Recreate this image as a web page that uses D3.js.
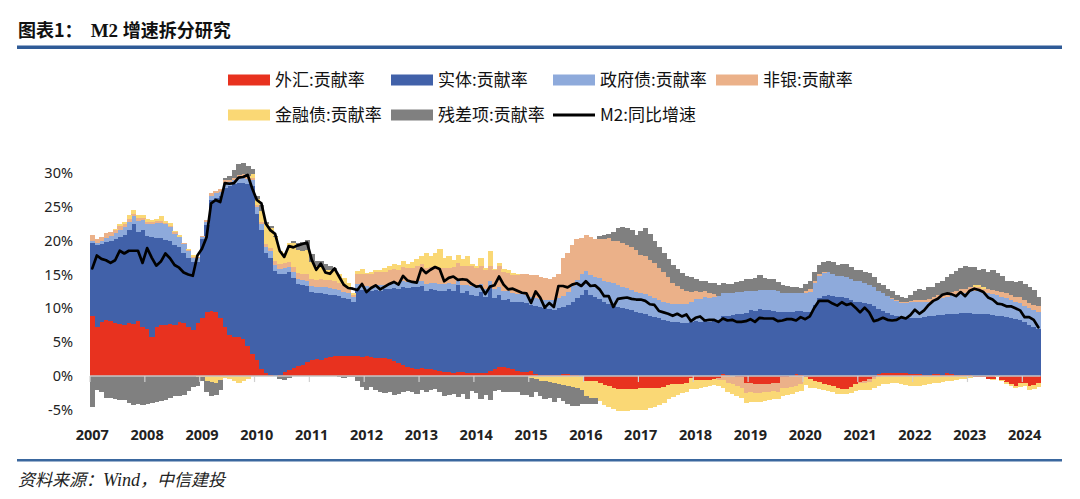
<!DOCTYPE html>
<html><head><meta charset="utf-8">
<script src="https://cdn.jsdelivr.net/npm/d3@7"></script>
<style>body{margin:0;background:#fff}svg{display:block}</style>
</head><body>
<svg id="chart" width="1080" height="499"></svg>
<script>
// ---------- data (percent) ----------
const startYear = 2007;
const yearLabels = ["2007","2008","2009","2010","2011","2012","2013","2014","2015","2016","2017","2018","2019","2020","2021","2022","2023","2024"];
const yTickValues = [-5, 0, 5, 10, 15, 20, 25, 30];
const seriesNames = ["外汇:贡献率","实体:贡献率","政府债:贡献率","非银:贡献率","金融债:贡献率","残差项:贡献率"];
const lineName = "M2:同比增速";

const fxContribution = [
 8.8,7.3,8.0,8.3,8.2,7.8,7.7,7.6,7.8,7.7,8.1,7.3,
 7.0,5.8,7.3,7.5,7.6,7.7,7.6,8.0,7.8,7.3,6.8,7.8,
 8.6,9.4,9.6,9.5,8.6,7.3,6.0,5.8,5.7,5.5,4.4,3.2,
 2.4,1.0,0.4,0.1,0.0,0.2,0.6,0.9,1.2,1.5,1.7,2.1,
 2.4,2.5,2.4,2.7,2.8,2.9,3.0,3.0,2.9,3.0,2.9,2.8,
 2.9,2.8,2.7,2.6,2.6,2.5,2.2,1.9,1.6,1.4,1.2,1.1,
 1.2,1.1,1.0,0.9,0.7,0.6,0.6,0.5,0.6,0.6,0.5,0.5,
 0.5,0.4,0.5,0.8,1.1,1.3,1.3,1.2,1.0,0.7,0.6,0.6,
 0.8,0.3,0.2,0.1,0.1,0.1,0.2,0.3,0.3,0.2,0.1,0.0,
 -0.7,-0.8,-0.8,-1.0,-1.3,-1.4,-1.7,-1.9,-1.9,-1.9,-1.9,-1.9,
 -1.8,-1.8,-1.7,-1.7,-1.7,-1.6,-1.3,-1.2,-1.2,-1.2,-1.1,-0.3,
 -0.6,-0.6,-0.6,-0.6,-0.5,-0.3,0.3,0.1,0.0,-0.1,-0.2,-1.0,
 -1.0,-1.2,-1.2,-1.2,-1.2,-1.1,-1.0,-0.2,-0.1,0.0,0.3,0.1,
 -0.1,-0.5,-0.7,-0.9,-1.2,-1.3,-1.5,-1.8,-1.9,-1.9,-1.6,-1.2,
 -0.9,-0.7,-0.5,-0.2,0.3,0.4,0.5,0.5,0.4,0.4,0.4,0.3,
 0.3,0.3,0.2,0.2,0.3,0.3,0.2,0.4,0.3,0.2,0.1,0.1,
 0.1,-0.2,-0.2,-0.1,-0.5,-0.5,0.0,-0.6,-0.9,-1.2,-1.4,-1.1,
 -1.0,-1.4,-1.3,-1.0
];
const realEconomyContribution = [
 10.9,12.0,11.5,11.5,11.8,12.5,12.9,13.3,13.7,14.7,13.2,14.3,
 13.7,14.8,13.1,12.9,12.5,12.3,11.8,11.0,10.4,10.2,10.0,9.1,
 11.6,12.9,16.4,16.8,18.0,20.5,22.0,22.5,22.8,23.0,23.9,24.8,
 21.6,20.5,17.7,17.4,15.5,14.8,14.5,14.4,13.3,12.1,11.7,11.2,
 10.0,9.8,9.8,9.4,9.2,9.1,8.8,8.5,8.5,7.9,10.0,9.9,
 9.7,9.7,10.0,10.0,10.2,10.4,10.8,11.0,11.5,11.6,11.9,12.1,
 12.1,11.5,11.9,11.8,11.8,12.0,12.3,12.0,12.8,11.7,12.0,11.5,
 11.3,12.0,11.1,12.3,10.4,10.6,9.9,10.2,10.0,10.3,10.3,10.2,
 9.7,10.1,10.0,9.9,9.8,9.7,9.8,9.9,10.2,10.8,11.4,12.0,
 12.7,12.0,11.6,11.4,11.0,10.7,10.4,10.2,10.0,9.9,9.7,9.5,
 9.3,9.1,8.9,8.7,8.5,8.3,8.2,8.0,8.0,7.9,7.8,8.0,
 8.1,8.0,8.1,8.0,8.2,8.2,8.5,8.8,9.0,9.1,9.2,9.3,
 9.8,9.6,9.9,9.7,9.7,9.6,9.5,9.4,9.5,9.4,9.3,9.5,
 9.5,9.5,10.5,11.5,11.8,11.9,11.8,11.6,11.6,11.5,11.3,11.0,
 11.0,10.8,10.6,10.3,9.6,9.2,8.8,8.5,8.4,8.2,8.1,8.2,
 8.3,8.3,8.5,8.6,8.6,8.7,8.8,8.7,8.9,9.0,9.2,9.2,
 9.2,9.2,9.2,9.1,9.1,9.0,8.9,8.8,8.7,8.6,8.4,8.3,
 8.0,7.6,7.3,6.9
];
const govBondContribution = [
 0.3,0.4,0.5,0.6,0.7,0.8,1.0,1.1,1.3,1.3,1.6,1.5,
 1.8,1.9,2.2,2.2,2.3,2.0,1.6,1.5,1.3,1.0,0.7,0.6,
 0.4,0.5,0.6,0.7,0.6,0.7,0.6,0.6,0.7,0.8,0.8,0.9,
 1.0,1.0,1.0,0.9,0.9,0.8,0.8,0.8,0.8,0.8,0.8,0.8,
 0.9,0.9,1.0,1.0,1.0,0.9,0.9,0.9,0.8,0.8,0.7,0.7,
 0.7,0.7,0.8,0.8,0.7,0.7,0.8,0.8,0.9,0.9,0.8,0.8,
 0.8,1.0,0.9,1.1,1.1,1.0,0.9,1.1,0.7,1.2,1.0,1.3,
 1.3,1.2,1.2,0.9,1.4,1.3,1.4,1.2,1.2,1.1,1.2,1.2,
 1.2,1.1,1.2,1.2,1.3,1.4,1.5,1.6,1.9,2.3,2.7,3.0,
 2.8,2.9,3.0,3.1,3.1,3.2,3.3,3.3,3.2,3.1,3.0,2.9,
 3.0,3.0,2.9,2.8,2.7,2.6,2.6,2.6,2.7,2.8,2.9,3.0,
 3.3,3.4,3.5,3.5,3.5,3.6,3.5,3.4,3.3,3.3,3.2,3.2,
 2.8,2.9,2.8,3.0,3.0,3.1,3.0,2.9,2.8,2.8,2.7,2.7,
 2.8,2.9,3.2,3.3,3.4,3.4,3.3,3.2,3.2,3.1,3.0,3.0,
 3.0,3.0,2.9,2.8,2.7,2.6,2.5,2.4,2.3,2.2,2.3,2.4,
 2.4,2.4,2.3,2.2,2.3,2.4,2.5,2.6,2.7,2.8,2.9,3.0,
 3.2,3.3,3.4,3.3,3.2,3.1,3.0,2.9,2.8,2.6,2.5,2.5,
 2.4,2.4,2.4,2.6
];
const nonBankContribution = [
 0.9,0.6,0.6,0.7,0.6,0.5,0.6,0.5,0.4,0.3,0.4,0.3,
 0.3,0.3,0.3,0.3,0.2,0.2,0.2,0.1,0.1,0.1,0.1,0.1,
 0.1,0.2,0.4,0.3,0.4,0.4,0.4,0.4,0.5,0.5,0.4,0.4,
 0.3,0.3,0.4,0.5,0.6,0.7,0.8,0.8,0.8,0.8,0.8,0.9,
 1.0,1.0,1.1,1.1,1.2,1.2,1.1,1.0,0.9,0.3,1.5,1.6,
 1.7,1.8,1.8,1.9,1.9,2.0,2.0,2.0,2.1,2.1,2.1,2.2,
 2.4,2.3,2.3,2.5,2.4,2.3,2.2,2.5,2.6,2.7,2.8,2.9,
 2.8,2.6,2.8,2.2,2.7,3.0,2.8,2.6,2.7,2.8,2.9,3.0,
 3.2,3.4,3.2,3.3,3.1,3.5,3.5,5.6,5.8,6.0,6.0,5.4,
 5.4,5.6,5.7,5.8,6.2,6.5,6.3,6.4,6.5,6.4,6.4,6.2,
 5.6,5.6,5.4,5.2,4.8,4.4,3.8,3.2,2.6,2.2,1.8,1.4,
 1.2,1.0,0.9,0.7,0.4,-0.3,-0.6,-1.0,-1.2,-1.4,-1.5,-1.5,
 -1.4,-1.3,-1.3,-1.2,-1.2,-1.1,-1.3,-1.6,-1.7,-1.6,-1.4,-1.2,
 0.3,0.4,0.3,0.2,0.1,0.1,0.0,0.0,0.0,0.0,0.0,0.0,
 -0.1,-0.3,-0.4,-0.3,-0.1,0.0,0.0,0.1,0.1,0.1,0.1,0.2,
 0.3,0.3,0.3,0.4,0.4,0.5,0.5,0.5,0.5,0.5,0.6,0.6,
 0.6,0.6,0.5,0.5,0.5,0.6,0.6,0.7,0.7,0.8,0.8,0.9,
 0.9,0.8,0.8,0.8
];
const finBondContribution = [
 0.0,0.0,0.0,0.0,0.0,0.1,0.2,0.3,0.6,0.5,0.5,0.4,
 0.4,0.3,0.3,0.8,0.3,0.4,0.2,0.2,0.1,0.2,0.3,-0.2,
 -0.2,-0.8,-0.9,-1.0,-0.6,-0.3,-0.4,-0.8,-1.0,-0.8,-0.5,0.5,
 0.8,1.6,3.0,3.0,3.5,2.0,1.4,2.8,3.5,3.4,3.5,3.6,
 2.5,2.0,2.1,1.5,1.4,1.4,1.2,1.1,0.6,0.2,0.4,0.8,
 0.2,0.3,0.4,0.4,0.5,0.6,0.7,0.7,0.9,0.6,0.9,1.1,
 1.3,2.3,1.6,1.8,2.8,1.6,1.8,1.1,1.2,1.1,1.4,0.3,
 0.4,1.2,0.3,2.3,0.2,0.5,0.4,0.4,0.3,0.2,0.0,0.0,
 -0.3,-0.5,-0.7,-0.8,-0.9,-1.0,-1.2,-1.3,-1.5,-1.6,-1.8,-2.0,
 -2.2,-2.4,-2.5,-2.7,-3.0,-3.1,-3.2,-3.2,-3.2,-3.2,-3.1,-3.1,
 -3.2,-3.2,-3.0,-2.8,-2.6,-2.4,-2.1,-1.9,-1.6,-1.3,-1.2,-1.6,
 -1.3,-1.1,-1.0,-0.9,-0.8,-0.8,-1.2,-1.3,-1.4,-1.5,-1.5,-1.5,
 -1.5,-1.4,-1.3,-1.3,-1.2,-1.2,-1.1,-1.1,-1.0,-1.0,-1.0,-1.0,
 -1.2,-1.2,-1.1,-1.0,-0.9,-0.9,-0.9,-0.8,-0.8,-0.8,-0.9,-1.0,
 -1.0,-1.1,-1.2,-1.3,-1.3,-1.2,-1.2,-1.1,-1.1,-1.2,-1.3,-1.4,
 -1.5,-1.4,-1.3,-1.2,-1.1,-1.0,-0.9,-0.8,-0.7,-0.6,-0.5,-0.4,
 -0.3,0.3,0.3,0.2,0.0,-0.1,-0.1,-0.2,-0.3,-0.3,-0.4,-0.5,
 -0.5,-0.6,-0.6,-0.6
];
const residualContribution = [
 -4.6,-2.0,-2.4,-3.3,-3.3,-3.4,-3.6,-3.5,-4.0,-4.3,-4.2,-4.3,
 -4.1,-4.0,-3.8,-3.7,-3.6,-3.2,-3.0,-2.9,-2.8,-2.2,-1.6,-1.2,
 -0.6,-1.5,-2.0,-1.8,-1.4,0.3,0.5,1.2,1.6,1.6,1.5,0.8,
 0.5,0.8,0.3,0.3,0.2,-0.5,-0.6,-0.3,0.4,1.0,1.3,1.5,
 1.2,0.8,0.6,0.8,0.7,0.5,-0.2,-0.3,-0.2,-0.1,-0.8,-1.6,
 -2.0,-1.6,-2.0,-2.3,-2.5,-2.4,-2.8,-2.6,-2.3,-2.2,-2.3,-2.6,
 -2.1,-2.4,-2.0,-1.9,-2.3,-3.0,-2.8,-2.6,-3.1,-2.7,-3.4,-2.2,
 -2.5,-3.4,-2.8,-3.5,-2.2,-2.0,-2.3,-2.3,-2.3,-2.4,-2.8,-2.8,
 -2.8,-1.9,-2.3,-2.6,-2.4,-2.9,-2.0,-2.4,-2.6,-2.8,-2.6,-2.2,
 -1.2,-1.0,-0.9,0.4,0.5,0.6,1.2,2.0,2.3,2.5,2.4,2.3,
 3.5,4.2,3.8,3.3,3.0,2.8,2.7,2.6,2.5,2.3,2.3,2.2,
 1.8,1.7,1.5,1.6,1.7,1.6,1.4,1.3,1.3,1.5,1.6,1.8,
 1.8,2.0,2.2,1.8,1.6,1.6,1.4,1.2,1.0,0.9,0.8,0.7,
 1.0,1.2,1.3,1.4,1.5,1.6,1.7,1.6,1.8,1.9,1.8,1.7,
 1.6,1.6,1.7,1.5,1.2,1.2,1.0,1.0,0.8,0.7,0.6,0.8,
 1.3,1.5,1.4,1.8,1.6,1.8,2.1,2.4,2.7,3.0,3.2,3.3,
 3.0,2.7,2.3,2.7,2.6,3.0,2.7,2.4,1.9,2.0,2.2,2.3,
 2.3,2.3,2.2,1.4
];
const m2Growth = [
 15.9,17.8,17.3,17.1,16.7,17.1,18.5,18.1,18.5,18.5,18.5,16.7,
 18.9,17.5,16.3,16.9,18.1,17.4,16.4,16.0,15.3,15.0,14.8,17.8,
 18.8,20.5,25.5,26.0,25.7,28.5,28.4,28.5,29.3,29.4,29.7,27.7,
 26.0,25.5,22.5,21.5,21.0,18.5,17.6,19.2,19.0,19.3,19.5,19.7,
 17.2,15.7,16.6,15.3,15.1,15.9,14.7,13.5,13.0,12.9,12.7,13.6,
 12.4,13.0,13.4,12.8,13.2,13.6,13.9,13.5,14.8,14.1,13.9,13.8,
 15.9,15.2,15.7,16.1,15.8,14.0,14.5,14.7,14.2,14.3,14.2,13.6,
 13.2,13.3,12.1,13.2,13.4,14.7,13.5,12.8,12.9,12.6,12.3,12.2,
 10.8,12.5,11.6,10.1,10.8,10.2,13.3,13.3,13.1,13.5,13.7,13.3,
 14.0,13.3,13.4,12.8,11.8,11.8,10.2,11.4,11.5,11.6,11.4,11.3,
 11.3,11.1,10.6,10.5,9.6,9.4,9.2,8.9,9.2,8.8,9.1,8.1,
 8.6,8.8,8.2,8.3,8.3,8.0,8.5,8.2,8.3,8.0,8.0,8.1,
 8.4,8.0,8.6,8.5,8.5,8.5,8.1,8.2,8.4,8.4,8.2,8.7,
 8.4,8.8,10.1,11.1,11.1,11.1,10.7,10.4,10.9,10.5,10.7,10.1,
 9.4,10.1,9.4,8.1,8.3,8.6,8.3,8.2,8.3,8.7,8.5,9.0,
 9.8,9.2,9.7,10.5,11.1,11.4,12.0,12.2,12.1,11.8,12.4,11.8,
 12.6,12.9,12.7,12.4,11.6,11.3,10.7,10.6,10.3,10.3,10.0,9.7,
 8.7,8.7,8.3,7.2
];

// ---------- styling ----------
const colors = ["#e8321f","#4161a9","#8eaadb","#ebb189","#fad875","#808080"];
const W = 1080, H = 499;
const plot = {left: 90, right: 1040.6, yTop: 172.9, yBottom: 409.9};

// ---------- build rows ----------
const seriesArrays = [fxContribution, realEconomyContribution, govBondContribution, nonBankContribution, finBondContribution, residualContribution];
const months = m2Growth.map((_, i) => {
  const yy = startYear + Math.floor(i / 12), m = i % 12 + 1;
  return yy + "-" + String(m).padStart(2, "0");
});
const rows = months.map((mo, i) => {
  const r = {month: mo};
  seriesNames.forEach((k, j) => r[k] = seriesArrays[j][i]);
  return r;
});

const svg = d3.select("#chart");
svg.append("rect").attr("width", W).attr("height", H).attr("fill", "#fff");

const x = d3.scaleBand().domain(months).range([plot.left, plot.right]).padding(0);
const y = d3.scaleLinear().domain([-5, 30]).range([plot.yBottom, plot.yTop]);

// ---------- title & rules ----------
const title = svg.append("text").attr("x", 18).attr("y", 37)
  .attr("font-size", 18).attr("font-weight", "bold").attr("fill", "#111")
  .attr("font-family", "'Noto Sans CJK SC', sans-serif");
title.append("tspan").text("图表1：");
title.append("tspan").attr("dx", 8).attr("font-family", "'Liberation Serif', serif").attr("font-size", 19).text("M2 ");
title.append("tspan").text("增速拆分研究");
svg.append("rect").attr("x", 17).attr("y", 45.5).attr("width", 1045).attr("height", 3.5).attr("fill", "#2f5b97");
svg.append("rect").attr("x", 17).attr("y", 459).attr("width", 1045).attr("height", 2.5).attr("fill", "#3a679e");
const src = svg.append("text").attr("x", 18).attr("y", 486).attr("font-size", 17).attr("font-style", "italic")
  .attr("fill", "#222").attr("font-family", "'Noto Sans CJK SC', serif");
src.append("tspan").text("资料来源：");
src.append("tspan").attr("font-family", "'Liberation Serif', serif").attr("font-size", 18).text("Wind");
src.append("tspan").text("，中信建投");

// ---------- stacked bars ----------
const stacked = d3.stack().keys(seriesNames).offset(d3.stackOffsetDiverging)(rows);
const bw = x.bandwidth();
svg.append("g").attr("shape-rendering", "crispEdges").selectAll("g").data(stacked).join("g")
  .attr("fill", (d, i) => colors[i])
  .selectAll("rect").data(d => d.filter(p => p[0] !== p[1])).join("rect")
  .attr("x", d => x(d.data.month))
  .attr("width", bw + 0.7)
  .attr("y", d => y(Math.max(d[0], d[1])))
  .attr("height", d => Math.abs(y(d[0]) - y(d[1])));

// ---------- zero line & year ticks ----------
svg.append("line").attr("x1", plot.left).attr("x2", plot.right)
  .attr("y1", y(0)).attr("y2", y(0)).attr("stroke", "#c6c6c6").attr("stroke-width", 1.6);
const janMonths = months.filter(m => m.endsWith("-01"));
svg.append("g").selectAll("line").data(janMonths).join("line")
  .attr("x1", d => x(d)).attr("x2", d => x(d))
  .attr("y1", y(0)).attr("y2", y(0) + 6)
  .attr("stroke", "#d0d0d0").attr("stroke-width", 1.2);

// ---------- axes ----------
const yAxis = svg.append("g").attr("transform", "translate(76,0)")
  .call(d3.axisLeft(y).tickValues(yTickValues).tickFormat(d => d + "%").tickSize(0).tickPadding(3));
yAxis.select(".domain").remove();
yAxis.selectAll("text").attr("font-size", 14.5).attr("fill", "#222")
  .attr("font-family", "'Noto Sans', 'Liberation Sans', sans-serif");

const xAxis = svg.append("g").attr("transform", "translate(0,430)")
  .call(d3.axisBottom(x).tickValues(janMonths).tickFormat((d, i) => yearLabels[i]).tickSize(0).tickPadding(0));
xAxis.select(".domain").remove();
xAxis.selectAll("text").attr("font-size", 14.5).attr("font-weight", "bold").attr("fill", "#222")
  .attr("font-family", "'Noto Sans', 'Liberation Sans', sans-serif");

// ---------- M2 line ----------
const line = d3.line().x((d, i) => x(months[i]) + bw / 2).y(d => y(d)).curve(d3.curveLinear);
svg.append("path").datum(m2Growth).attr("d", line)
  .attr("fill", "none").attr("stroke", "#000").attr("stroke-width", 2.7)
  .attr("stroke-linejoin", "round").attr("stroke-linecap", "round");

// ---------- legend ----------
const legendItems = seriesNames.map((n, i) => ({name: n, color: colors[i], type: "rect"}))
  .concat([{name: lineName, color: "#000", type: "line"}]);
const legendPos = [[228, 80], [391, 80], [553, 80], [716, 80], [228, 115], [391, 115], [553, 115]];
const lg = svg.append("g").attr("font-family", "'Noto Sans CJK SC', sans-serif").attr("font-size", 17).attr("fill", "#111");
legendItems.forEach((it, i) => {
  const [lx, ly] = legendPos[i];
  if (it.type === "rect") {
    lg.append("rect").attr("x", lx).attr("y", ly - 5.5).attr("width", 42).attr("height", 11).attr("fill", it.color);
  } else {
    lg.append("line").attr("x1", lx).attr("x2", lx + 42).attr("y1", ly).attr("y2", ly)
      .attr("stroke", it.color).attr("stroke-width", 3);
  }
  lg.append("text").attr("x", lx + 47).attr("y", ly).attr("dy", "0.36em").text(it.name);
});
</script>
</body></html>
